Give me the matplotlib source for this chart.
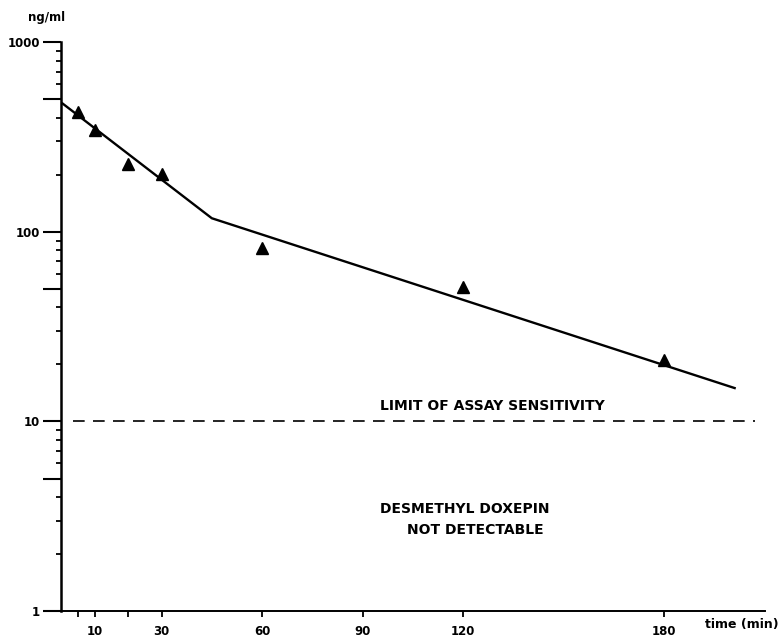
import matplotlib
matplotlib.use("Agg")
import matplotlib.pyplot as plt
import matplotlib.ticker as ticker

# ── Dados ─────────────────────────────────────────────────────────────────────

# doxepina plasmática (ng/ml) após dose i.v.
t_pts = [5, 10, 20, 30, 60, 120, 180]
c_pts = [431, 343, 227, 201, 82, 51, 21]

# curva ajustada (dois segmentos em escala log)
t_fit = [0.5, 45, 201]
c_fit = [475, 118, 15]

limite = 10          # limite de sensibilidade do ensaio, ng/ml

x_ticks  = [10, 30, 60, 90, 120, 180]
x_minor  = [5, 20]
y_major  = [1, 5, 10, 50, 100, 500, 1000]
y_labels = ["1", "", "10", "", "100", "", "1000"]

# ── Estilo ────────────────────────────────────────────────────────────────────

plt.rcParams.update({
    "font.family": "DejaVu Sans",
    "font.weight": "bold",
})

fig = plt.figure(figsize=(7.82, 6.39), dpi=100)
ax = fig.add_axes([0.078, 0.0438, 0.900, 0.890])

ax.set_yscale("log")
ax.set_xlim(0, 210)
ax.set_ylim(1, 1000)

ax.plot(t_fit, c_fit, color="black", linewidth=1.7, solid_joinstyle="round")
ax.plot(t_pts, c_pts, linestyle="none", marker="^", markersize=8.5,
        color="black")
ax.hlines(limite, 3.5, 207, colors="black", linewidth=1.2,
          linestyles=(0, (7, 5)))

# ── Eixos ─────────────────────────────────────────────────────────────────────

for s in ("top", "right"):
    ax.spines[s].set_visible(False)
ax.spines["left"].set_linewidth(1.8)
ax.spines["bottom"].set_linewidth(1.4)

ax.yaxis.set_major_locator(ticker.FixedLocator(y_major))
ax.yaxis.set_major_formatter(ticker.FixedFormatter(y_labels))
ax.yaxis.set_minor_locator(ticker.LogLocator(base=10, subs=[2, 3, 4, 6, 7, 8, 9]))
ax.yaxis.set_minor_formatter(ticker.NullFormatter())
ax.tick_params(axis="y", which="major", direction="out", length=13,
               width=1.5, pad=2, labelsize=8.5)
ax.tick_params(axis="y", which="minor", direction="out", length=3.5, width=1.3)

ax.set_xticks(x_ticks)
ax.set_xticklabels([str(v) for v in x_ticks])
ax.set_xticks(x_minor, minor=True)
ax.tick_params(axis="x", which="both", direction="out", length=4, width=1.3,
               pad=6, labelsize=8.5)

# ── Textos ────────────────────────────────────────────────────────────────────

ax.text(0.059, 0.972, "ng/ml", transform=fig.transFigure, fontsize=8.5,
        ha="center", va="center")
ax.text(0.949, 0.022, "time (min)", transform=fig.transFigure, fontsize=9,
        ha="center", va="center")

ax.text(0.630, 0.364, "LIMIT OF ASSAY SENSITIVITY", transform=fig.transFigure,
        fontsize=10, ha="center", va="center")
ax.text(0.594, 0.203, "DESMETHYL DOXEPIN", transform=fig.transFigure,
        fontsize=10, ha="center", va="center")
ax.text(0.608, 0.171, "NOT DETECTABLE", transform=fig.transFigure,
        fontsize=10, ha="center", va="center")

fig.savefig("out.png", dpi=100, facecolor="white")
